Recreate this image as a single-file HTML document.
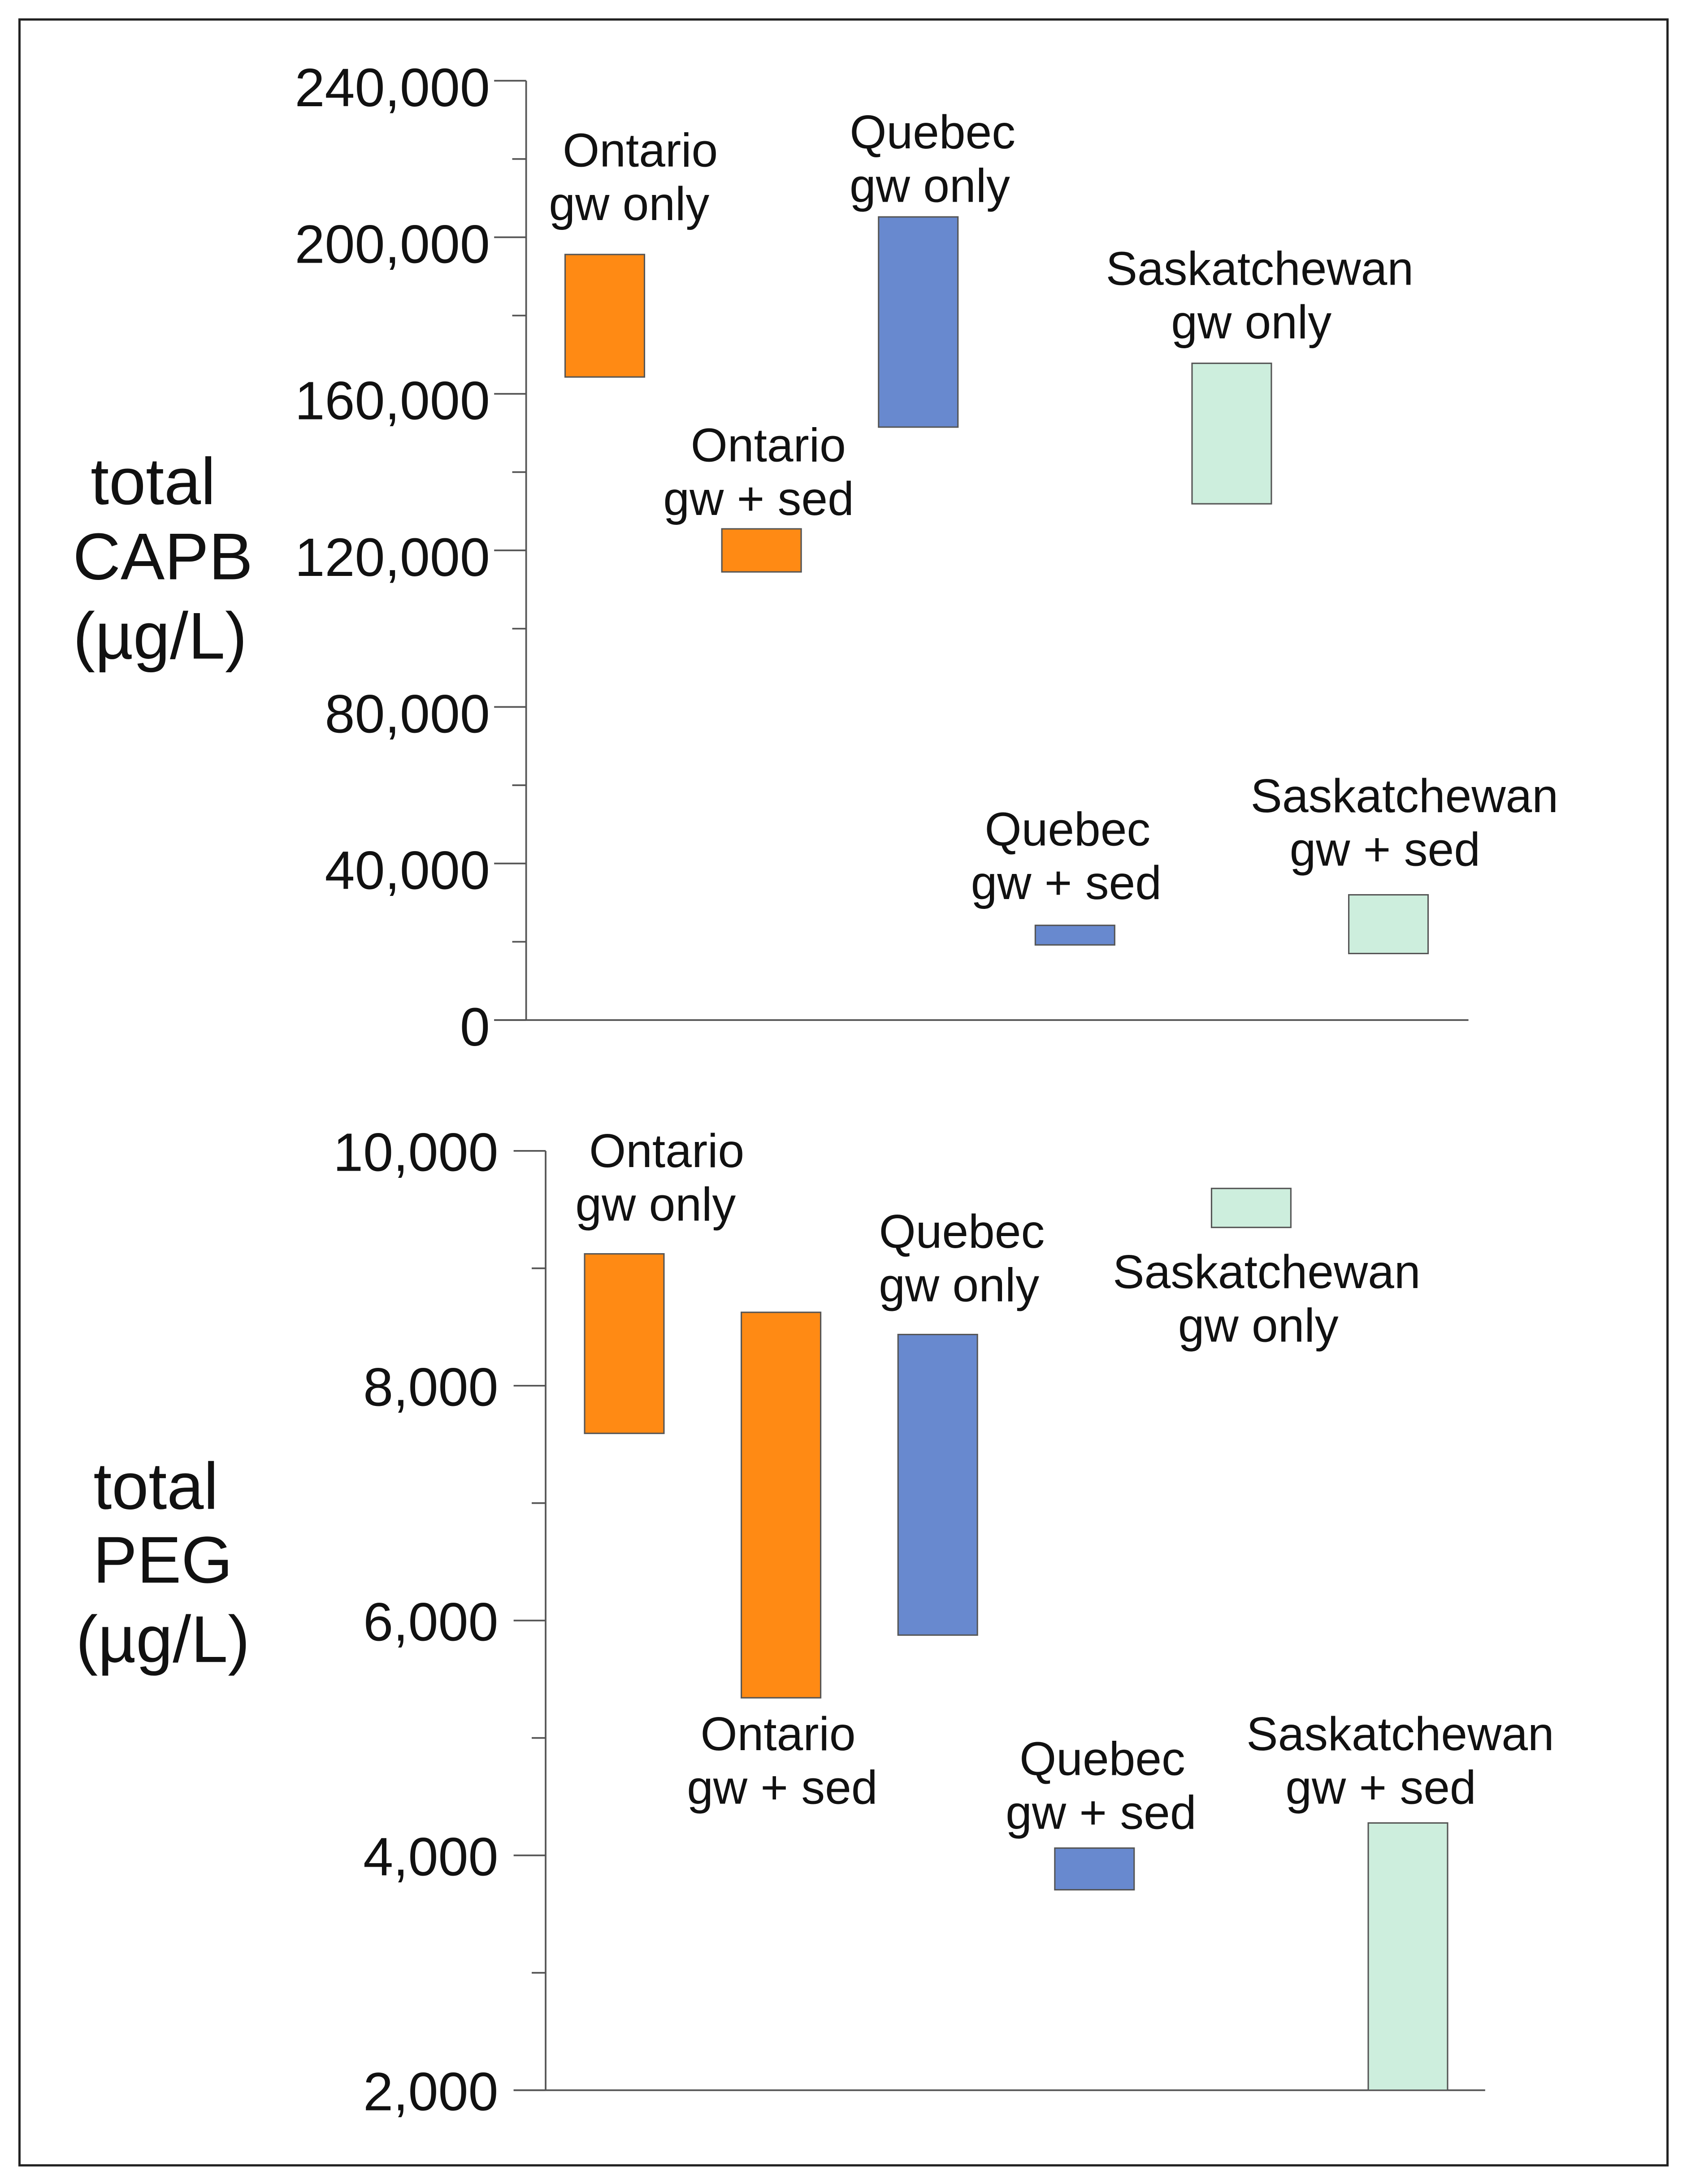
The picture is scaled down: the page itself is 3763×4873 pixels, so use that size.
<!DOCTYPE html>
<html><head><meta charset="utf-8"><style>
html,body{margin:0;padding:0;background:#fff}
svg{display:block}
text{font-family:"Liberation Sans",Arial,sans-serif;fill:#111}
</style></head><body>
<svg id="chart" width="3763" height="4873" viewBox="0 0 1212 1569.4" preserveAspectRatio="none" xmlns="http://www.w3.org/2000/svg">
<rect x="14" y="14" width="1184" height="1542" fill="none" stroke="#222" stroke-width="1.6"/>
<g id="top"></g>
<g id="bot"></g>
</svg>
<script>
// Top chart data (total CAPB, µg/L)
const capbCategories = ["Ontario gw only","Ontario gw + sed","Quebec gw only","Quebec gw + sed","Saskatchewan gw only","Saskatchewan gw + sed"];
const capbLow  = [164300, 114500, 151500, 19200, 131900, 17000];
const capbHigh = [195600, 125500, 205200, 24200, 167800, 32000];
const capbTicks = [0,40000,80000,120000,160000,200000,240000];
const capbTickLabels = ["0","40,000","80,000","120,000","160,000","200,000","240,000"];
// Bottom chart data (total PEG, µg/L)
const pegCategories = ["Ontario gw only","Ontario gw + sed","Quebec gw only","Quebec gw + sed","Saskatchewan gw only","Saskatchewan gw + sed"];
const pegLow  = [7594, 5342, 5876, 3707, 9348, 2000];
const pegHigh = [9123, 8625, 8436, 4062, 9680, 4276];
const pegTicks = [2000,4000,6000,8000,10000];
const pegTickLabels = ["2,000","4,000","6,000","8,000","10,000"];

const colors = ["#FF8A14","#FF8A14","#6889CF","#6889CF","#CDEEDD","#CDEEDD"];
const NS="http://www.w3.org/2000/svg";
function mk(parent,tag,attrs,txt){const e=document.createElementNS(NS,tag);for(const k in attrs)e.setAttribute(k,attrs[k]);if(txt!==undefined)e.textContent=txt;parent.appendChild(e);return e;}

function drawChart(g,cfg,cats,lows,highs,ticks,tickLabels,labelPos,title){
  const y=v=>cfg.y0-(v-cfg.vmin)/(cfg.vmax-cfg.vmin)*(cfg.y0-cfg.y1);
  const x=i=>cfg.x0+i*112.6;
  const ax=mk(g,'line',{x1:cfg.ax,y1:y(cfg.vmax),x2:cfg.ax,y2:cfg.y0,stroke:'#555','stroke-width':1.2});
  
  
  const bl=mk(g,'line',{x1:cfg.ax-23,y1:cfg.y0,x2:cfg.xEnd,y2:cfg.y0,stroke:'#555','stroke-width':1.2});
  
  
  for(let v=cfg.vmin;v<=cfg.vmax;v+=cfg.minor){
    const major=ticks.includes(v);
    const t=mk(g,'line',{x1:major?cfg.ax-23:cfg.ax-10,y1:y(v),x2:cfg.ax,y2:y(v),stroke:'#555','stroke-width':1.2});
    
    
  }
  ticks.forEach((v,i)=>{
    const t=mk(g,'text',{x:cfg.ax-cfg.lblOff,y:y(v)+cfg.lblDy,'text-anchor':'end','dominant-baseline':'central','font-size':38.8},tickLabels[i]);
    
    
  });
  cats.forEach((c,i)=>{
    const r=mk(g,'rect',{x:x(i),y:y(highs[i]),width:57,height:y(lows[i])-y(highs[i]),fill:colors[i],stroke:'#555','stroke-width':1});
    
    
    const parts=[c.split(' gw')[0],'gw'+c.split(' gw')[1]];
    const p=labelPos[i];
    const t1=mk(g,'text',{x:p[0],y:p[1],'text-anchor':'middle','dominant-baseline':'central','font-size':34},parts[0]);
    
    
    const t2=mk(g,'text',{x:p[2],y:p[1]+38.5,'text-anchor':'middle','dominant-baseline':'central','font-size':34},parts[1]);
    
    
  });
  title.forEach((tt,i)=>{
    const t=mk(g,'text',{x:tt[1],y:tt[2],'text-anchor':'middle','dominant-baseline':'central','font-size':47.5},tt[0]);
    
    
  });
}
drawChart(document.getElementById('top'),
  {ax:378,y0:733,y1:58,vmin:0,vmax:240000,minor:20000,x0:406,xEnd:1055,lblOff:26,lblDy:5},
  capbCategories,capbLow,capbHigh,capbTicks,capbTickLabels,
  [[460,108,452],[552,320,545],[670,95,668],[767,596,766],[905,193,899],[1009,572,995]],
  [["total",110,346],["CAPB",117,400],["(µg/L)",115,457]]);
drawChart(document.getElementById('bot'),
  {ax:392,y0:1502,y1:827,vmin:2000,vmax:10000,minor:1000,x0:420,xEnd:1067,lblOff:34,lblDy:1},
  pegCategories,pegLow,pegHigh,pegTicks,pegTickLabels,
  [[479,827,471],[559,1246,562],[691,885,689],[792,1264,791],[910,914,904],[1006,1246,992]],
  [["total",112,1068],["PEG",117,1121],["(µg/L)",117,1178]]);
</script>
</body></html>
